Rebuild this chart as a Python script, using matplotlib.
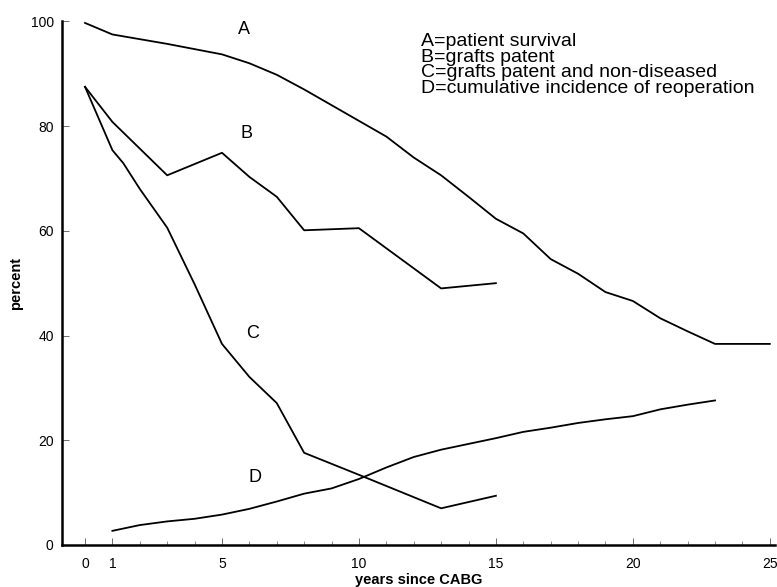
import numpy as np
import matplotlib
matplotlib.use("Agg")
import matplotlib.pyplot as plt

plt.rcParams['font.family'] = ['Liberation Sans', 'DejaVu Sans']

# curve data (years since CABG, percent)
a_years = list(range(0, 26))
a_vals = [99.7, 97.5, 96.6, 95.7, 94.7, 93.7, 92.0, 89.8, 87.0, 84.0, 81.0, 78.0, 74.0,
          70.6, 66.5, 62.3, 59.5, 54.6, 51.8, 48.3, 46.6, 43.3, 40.8, 38.4, 38.4, 38.4]

b_years = [0, 1, 3, 5, 6, 7, 8, 10, 13, 15]
b_vals = [87.5, 80.8, 70.6, 74.9, 70.3, 66.5, 60.1, 60.5, 49.0, 50.0]

c_years = [0, 1, 1.4, 2, 3, 4, 5, 6, 7, 8, 10, 13, 15]
c_vals = [87.5, 75.4, 72.9, 68.0, 60.6, 49.8, 38.4, 32.1, 27.1, 17.6, 13.4, 7.0, 9.4]

d_years = list(range(1, 24))
d_vals = [2.7, 3.8, 4.5, 5.0, 5.8, 6.9, 8.3, 9.8, 10.8, 12.6, 14.8, 16.8, 18.2, 19.3,
          20.4, 21.6, 22.4, 23.3, 24.0, 24.6, 25.9, 26.8, 27.6]

curve_labels = ['A', 'B', 'C', 'D']
label_pos = [(5.8, 98.4), (5.9, 78.6), (6.1, 40.3), (6.2, 12.8)]
legend_lines = ['A=patient survival', 'B=grafts patent',
                'C=grafts patent and non-diseased',
                'D=cumulative incidence of reoperation']

x_ticks = [0, 1, 5, 10, 15, 20, 25]
y_ticks = [0, 20, 40, 60, 80, 100]

fig = plt.figure(figsize=(7.77, 5.87), dpi=100)
ax = fig.add_axes([0.0798, 0.0716, 0.918, 0.892])

for xs, ys in [(a_years, a_vals), (b_years, b_vals), (c_years, c_vals), (d_years, d_vals)]:
    ax.plot(xs, ys, color='black', lw=1.3)

for lab, (lx, ly) in zip(curve_labels, label_pos):
    ax.text(lx, ly, lab, fontsize=13, ha='center', va='center')

ax.text(12.26, 97.7, '\n'.join(legend_lines), fontsize=14, ha='left', va='top',
        linespacing=0.88)

ax.set_xlim(-0.84, 25.2)
ax.set_ylim(0, 100)
ax.set_xticks(x_ticks)
ax.set_xticks(range(0, 26), minor=True)
ax.set_yticks(y_ticks)
ax.tick_params(axis='both', which='major', direction='in', length=5, width=0.6,
               labelsize=10, color='#555555')
ax.tick_params(axis='x', which='major', pad=9)
ax.tick_params(axis='y', which='major', pad=6)
ax.tick_params(axis='x', which='minor', direction='in', length=3, width=0.6, color='#777777')

for s in ['top', 'right']:
    ax.spines[s].set_visible(False)
ax.spines['left'].set_linewidth(1.8)
ax.spines['bottom'].set_linewidth(1.8)

ax.set_xlabel('years since CABG', fontsize=10.5, fontweight='bold', labelpad=1)
ax.set_ylabel('percent', fontsize=10.5, fontweight='bold')
ax.yaxis.set_label_coords(-0.055, 0.5)

fig.savefig('out.png', dpi=100)
